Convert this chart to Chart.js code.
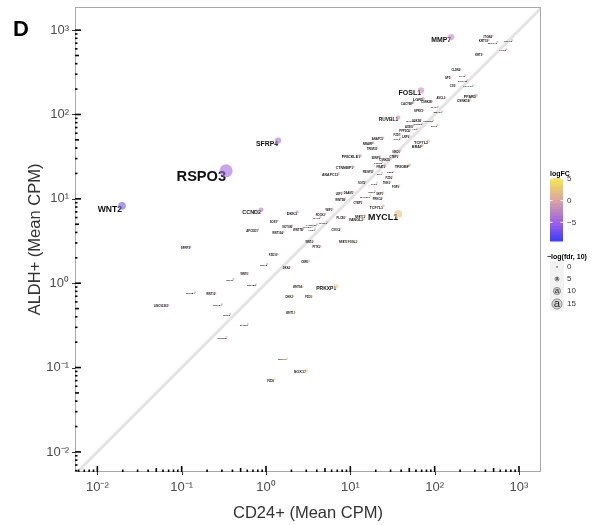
<!DOCTYPE html>
<html>
<head>
<meta charset="utf-8">
<script src="https://cdn.jsdelivr.net/npm/chart.js@4.4.0/dist/chart.umd.min.js"></script>
<style>
  html, body { margin: 0; padding: 0; background: #fff; }
  canvas { display: block; }
</style>
</head>
<body>
<canvas id="cpmChart" width="596" height="525"></canvas>
<script>
// Gene labels (same order in every array below)
const genes = [
    'MMP7', 'FOSL1', 'RUVBL1', 'SFRP4', 'RSPO3', 'WNT2', 'CCND2', 'MYCL1', 'PRKXP1', 'SOX17',
    'LGR5', 'TCF7L2', 'BRAF', 'TRIOBP', 'PRICKLE1', 'CTNNBIP1', 'ANAPC13', 'DKK3', 'TCF7L1', 'VANGL2',
    'PPARD', 'CSNK1E', 'ITGB4', 'KRT18', 'EEF1A1', 'RPLP0', 'ACTB', 'KRT8', 'CLDN4', 'SP5',
    'TPT1', 'EPCAM', 'CD9', 'LGALS4', 'CACYBP', 'CSNK2B', 'ASCL2', 'RHOA', 'SMAD4', 'SPRY2',
    'GSK3B', 'CTNNB1', 'DVL2', 'AXIN1', 'APC', 'LRP6', 'FZD7', 'NKD1', 'CTBP2', 'FRAT2',
    'FZD2', 'TNKS', 'MAPK8', 'CCND3', 'PPP2CA', 'ANAPC5', 'CUL1', 'NRARP', 'TRIM33', 'SENP2',
    'CSNK1D', 'PSEN1', 'FBXW11', 'NLK', 'FZD5', 'SOX9', 'TLE1', 'FGF9', 'RBX1', 'SKP1',
    'DAAM1', 'LEF1', 'MAP3K7', 'PRKCA', 'WNT5B', 'CTBP1', 'WIF1', 'NFATC2', 'PLCB1', 'ROCK2',
    'RAC1', 'SFRP1', 'CAMK2G', 'PPP3CA', 'WNT7B', 'FZD4', 'SOST', 'NOTUM', 'WNT10A', 'APCDD1',
    'CXXC4', 'FOSL2', 'NFAT5', 'WNT4', 'PITX2', 'FZD10', 'CER1', 'DKK4', 'WNT3', 'WNT6',
    'WNT1', 'WNT8B', 'WNT9A', 'DKK2', 'FZD9', 'WNT16', 'WNT8A', 'WNT3A', 'LINC00261', 'NKD2',
    'WNT11', 'SFRP5', 'WNT2B', 'SFRP2', 'WNT7A', 'FZD8'
];

// CD24+ mean CPM (x)
const cd24Cpm = [
    157, 69, 37, 1.39, 0.336, 0.0196, 0.875, 36.9, 6.8, 3.0,
    73, 84, 71, 50, 13.1, 10.8, 7.2, 2.34, 24.5, 14.2,
    311, 262, 481, 431, 552, 832, 706, 366, 201, 153,
    230, 243, 175, 286, 55.6, 93, 133, 110, 123, 73,
    69, 96, 107, 55.6, 62, 50, 39, 39, 37, 26,
    31.4, 29.7, 58.8, 71, 51, 24.5, 39, 18.7, 20.8, 22.6,
    29.7, 23.9, 18.7, 23.9, 32.3, 15, 20.8, 37.9, 19.7, 24.5,
    10.8, 8.0, 17.2, 23.9, 8.7, 13.8, 6.1, 15, 8.7, 5.0,
    4.4, 5.3, 4.0, 3.6, 2.75, 3.8, 1.36, 2.04, 1.6, 0.8,
    7.6, 12, 9.2, 3.6, 4.4, 1.36, 3.2, 1.93, 1.03, 0.61,
    0.41, 0.76, 2.7, 2.1, 3.5, 0.25, 0.144, 0.30, 0.069, 0.375,
    2.2, 0.61, 0.34, 0.126, 1.78, 1.25
];

// ALDH+ mean CPM (y)
const aldhCpm = [
    826, 193, 92, 49, 21.5, 8.26, 7.4, 6.6, 0.92, 0.092,
    155, 48, 43, 25, 32.5, 24, 19.8, 7.0, 8.26, 5.8,
    168, 150, 849, 760, 719, 760, 594, 518, 344, 275,
    291, 254, 221, 221, 139, 143, 159, 124, 109, 112,
    87, 85, 74, 74, 68, 56, 58, 37, 32.5, 24.7,
    18.3, 15.9, 85, 78, 66, 53, 52, 46, 40, 31.6,
    29.9, 27.5, 21.5, 20.4, 21, 15.9, 15.5, 14.3, 12.4, 11.8,
    12.1, 11.8, 10.9, 10.3, 10.0, 9.2, 7.6, 6.3, 6.1, 6.6,
    6.1, 5.3, 5.0, 4.8, 4.4, 4.4, 5.5, 4.8, 4.05, 4.3,
    4.4, 3.16, 3.16, 3.16, 2.75, 2.2, 1.83, 1.55, 1.68, 1.31,
    1.12, 0.97, 0.92, 0.70, 0.70, 0.76, 0.78, 0.56, 0.547, 0.43,
    0.45, 0.33, 0.23, 2.68, 0.128, 0.072
];

// log fold change (colour)
const logFC = [
    -2.2, -1.6, -1.3, -4.2, -4.6, -6.8, -3.0, 2.3, 3.2, 3.6,
    -1.1, 0.8, 0.7, 1.0, -1.3, -1.1, -1.5, -1.6, 1.6, 1.3,
    -1.0, 0.8, -0.8, -0.8, -0.4, 0.1, 0.2, -0.5, -0.8, -0.8,
    -0.3, 0.0, -0.3, 0.4, -1.3, -0.6, -0.3, -0.2, 0.2, -0.6,
    -0.3, 0.2, 0.5, -0.4, -0.1, -0.2, -0.6, 0.1, 0.2, 0.1,
    0.8, 0.9, -0.5, -0.1, -0.4, -1.1, -0.4, -1.3, -1.0, -0.5,
    0.0, -0.2, -0.2, 0.2, 0.6, 0.0, 0.4, 1.4, 0.7, 1.1,
    -0.2, -0.6, 0.7, 1.2, -0.2, 0.6, -0.3, 1.3, 0.5, -0.4,
    -0.5, 0.0, -0.3, -0.4, -0.7, -0.2, -2.0, -1.2, -1.3, -2.4,
    0.8, 1.9, 1.5, 0.2, 0.7, -0.7, 0.8, 0.3, -0.7, -1.1,
    -1.4, -0.4, 1.5, 1.6, 2.3, -1.6, -2.4, -0.9, -3.0, -0.2,
    2.3, 0.9, 0.6, -4.4, 3.8, 4.1
];

// -log10(fdr) (point and label size)
const negLogFdr = [
    8.5, 8.7, 5.5, 8.5, 20, 11, 6.4, 11.5, 5.7, 4.0,
    4.0, 4.0, 3.6, 4.0, 3.8, 3.4, 3.4, 3.9, 3.8, 3.6,
    3.6, 3.0, 2.6, 2.6, 2.0, 2.0, 2.0, 2.2, 2.2, 2.4,
    2.0, 2.0, 2.2, 2.0, 2.6, 2.2, 2.2, 2.0, 2.0, 2.4,
    2.2, 2.0, 2.0, 2.4, 2.0, 2.4, 2.2, 2.4, 2.2, 2.4,
    2.2, 2.2, 2.0, 2.0, 2.2, 2.4, 2.0, 2.6, 2.6, 2.2,
    2.2, 2.0, 2.2, 2.0, 2.0, 2.2, 2.0, 2.4, 2.0, 2.2,
    2.2, 2.2, 2.0, 2.2, 2.4, 2.2, 2.4, 2.2, 2.2, 2.2,
    2.0, 2.0, 2.0, 2.0, 2.4, 2.0, 2.4, 2.2, 2.2, 2.4,
    2.2, 2.4, 2.2, 2.2, 2.4, 2.4, 2.4, 2.2, 2.0, 2.2,
    2.0, 2.0, 2.2, 2.4, 2.2, 2.2, 2.0, 2.0, 2.4, 2.0,
    2.2, 2.0, 2.0, 2.6, 2.0, 2.4
];

// Axis ticks
const tickValues = [0.01, 0.1, 1, 10, 100, 1000];
const tickLabels = ['10⁻²', '10⁻¹', '10⁰', '10¹', '10²', '10³'];
const identityLine = [0.001, 10000];

// Legend entries
const colorbarTicks = [5, 0, -5];
const colorbarLabels = ['5', '0', '−5'];
const sizeLegendValues = [0, 5, 10, 15];

// Colour scale for logFC
const fcStops = [-9.3, -5, 0, 5.2];
const fcColors = [[58, 62, 255], [157, 98, 230], [217, 163, 163], [249, 232, 74]];

const FONT = "'Liberation Sans', Arial, sans-serif";
Chart.defaults.font.family = FONT;

function fcColor(v, alpha) {
    v = Math.max(fcStops[0], Math.min(fcStops[fcStops.length - 1], v));
    let i = 0;
    while (i < fcStops.length - 2 && v > fcStops[i + 1]) i++;
    const t = (v - fcStops[i]) / (fcStops[i + 1] - fcStops[i]);
    const c = fcColors[i].map((c0, k) => Math.round(c0 + (fcColors[i + 1][k] - c0) * t));
    return `rgba(${c[0]}, ${c[1]}, ${c[2]}, ${alpha})`;
}

function fontFor(sig) {
    return 1.2 + 0.67 * sig;
}

function radiusFor(sig) {
    return 0.45 * fontFor(sig);
}

// Draw gene labels (top-right corner of the text sits on the point)
function drawGeneLabels(chart) {
    const ctx = chart.ctx;
    const x = chart.scales.x;
    const y = chart.scales.y;
    ctx.save();
    ctx.fillStyle = '#111';
    ctx.textAlign = 'right';
    ctx.textBaseline = 'alphabetic';
    genes.forEach((g, i) => {
        const f = fontFor(negLogFdr[i]);
        const px = x.getPixelForValue(cd24Cpm[i]);
        const py = y.getPixelForValue(aldhCpm[i]);
        ctx.font = `bold ${f}px ${FONT}`;
        ctx.fillText(g, px, py + f * 0.72);
    });
    ctx.restore();
}

// Frame plus annotation_logticks-style marks inside the panel
function drawFrameAndTicks(chart) {
    const ctx = chart.ctx;
    const a = chart.chartArea;
    const x = chart.scales.x;
    const y = chart.scales.y;
    ctx.save();
    ctx.strokeStyle = '#a8a8a8';
    ctx.lineWidth = 1;
    ctx.strokeRect(a.left + 0.5, a.top + 0.5, a.right - a.left - 1, a.bottom - a.top - 1);

    ctx.strokeStyle = '#000';
    ctx.lineWidth = 1.6;
    for (let e = -3; e <= 3; e++) {
        for (let m = 1; m <= 9; m++) {
            const v = m * Math.pow(10, e);
            const len = m === 1 ? 6 : (m === 5 ? 4 : 2.5);
            const px = x.getPixelForValue(v);
            if (px >= a.left && px <= a.right) {
                ctx.beginPath();
                ctx.moveTo(px, a.bottom);
                ctx.lineTo(px, a.bottom - len);
                ctx.stroke();
            }
            const py = y.getPixelForValue(v);
            if (py >= a.top && py <= a.bottom) {
                ctx.beginPath();
                ctx.moveTo(a.left, py);
                ctx.lineTo(a.left + len, py);
                ctx.stroke();
            }
        }
    }

    // small outward axis ticks at the decades
    ctx.strokeStyle = '#333';
    ctx.lineWidth = 1;
    tickValues.forEach(v => {
        const px = Math.round(x.getPixelForValue(v)) + 0.5;
        ctx.beginPath();
        ctx.moveTo(px, a.bottom);
        ctx.lineTo(px, a.bottom + 3);
        ctx.stroke();
        const py = Math.round(y.getPixelForValue(v)) + 0.5;
        ctx.beginPath();
        ctx.moveTo(a.left, py);
        ctx.lineTo(a.left - 3, py);
        ctx.stroke();
    });
    ctx.restore();
}

function drawTitles(chart) {
    const ctx = chart.ctx;
    const a = chart.chartArea;
    ctx.save();
    ctx.fillStyle = '#000';
    ctx.font = `bold 22px ${FONT}`;
    ctx.textAlign = 'left';
    ctx.fillText('D', 13, 36);

    ctx.fillStyle = '#333';
    ctx.font = `16.5px ${FONT}`;
    ctx.textAlign = 'center';
    ctx.fillText('CD24+ (Mean CPM)', (a.left + a.right) / 2, 518);

    ctx.translate(40, (a.top + a.bottom) / 2);
    ctx.rotate(-Math.PI / 2);
    ctx.fillText('ALDH+ (Mean CPM)', 0, 0);
    ctx.restore();
}

function drawLegends(chart) {
    const ctx = chart.ctx;
    ctx.save();

    // logFC colour bar
    const barLeft = 550, barW = 13, barTop = 178, barBottom = 241;
    const vmax = fcStops[fcStops.length - 1], vmin = fcStops[0];
    const toY = v => barTop + (vmax - v) / (vmax - vmin) * (barBottom - barTop);
    ctx.fillStyle = '#000';
    ctx.font = `bold 7px ${FONT}`;
    ctx.textAlign = 'left';
    ctx.fillText('logFC', barLeft, barTop - 2);
    const nbin = 20;
    for (let b = 0; b < nbin; b++) {
        const v0 = vmax - (vmax - vmin) * b / nbin;
        const v1 = vmax - (vmax - vmin) * (b + 1) / nbin;
        ctx.fillStyle = fcColor((v0 + v1) / 2, 1);
        ctx.fillRect(barLeft, toY(v0), barW, toY(v1) - toY(v0) + 0.5);
    }
    ctx.strokeStyle = '#fff';
    ctx.lineWidth = 1;
    ctx.font = `8px ${FONT}`;
    ctx.textBaseline = 'middle';
    colorbarTicks.forEach((v, i) => {
        const py = toY(v);
        ctx.beginPath();
        ctx.moveTo(barLeft, py); ctx.lineTo(barLeft + 2.5, py);
        ctx.moveTo(barLeft + barW, py); ctx.lineTo(barLeft + barW - 2.5, py);
        ctx.stroke();
        ctx.fillStyle = '#333';
        ctx.fillText(colorbarLabels[i], barLeft + barW + 4, py);
    });

    // size legend
    ctx.textBaseline = 'alphabetic';
    ctx.fillStyle = '#000';
    ctx.font = `bold 7px ${FONT}`;
    ctx.fillText('−log(fdr, 10)', 547, 259);
    const rows = [267, 279, 291, 304];
    const heights = [12, 12, 12, 14];
    sizeLegendValues.forEach((v, i) => {
        const cy = rows[i];
        ctx.fillStyle = '#f2f2f2';
        ctx.fillRect(barLeft, cy - heights[i] / 2, 14, heights[i]);
        const r = radiusFor(v);
        ctx.beginPath();
        ctx.arc(barLeft + 7, cy, r, 0, Math.PI * 2);
        ctx.fillStyle = 'rgba(0, 0, 0, 0.12)';
        ctx.fill();
        ctx.strokeStyle = '#555';
        ctx.lineWidth = 0.6;
        ctx.stroke();
        const f = fontFor(v);
        ctx.fillStyle = '#222';
        ctx.font = `${f}px ${FONT}`;
        ctx.textAlign = 'center';
        ctx.textBaseline = 'middle';
        ctx.fillText('a', barLeft + 7, cy);
        ctx.textAlign = 'left';
        ctx.font = `8px ${FONT}`;
        ctx.fillStyle = '#333';
        ctx.fillText(String(v), barLeft + 17, cy);
    });
    ctx.restore();
}

const decorPlugin = {
    id: 'decor',
    beforeDatasetDraw(chart, args) {
        if (args.index === 0) drawGeneLabels(chart);
    },
    afterDraw(chart) {
        drawFrameAndTicks(chart);
        drawTitles(chart);
        drawLegends(chart);
    }
};

// keep the panel edges where they are: no extra room for edge tick labels
function noEdgePadding(scale) {
    scale.paddingTop = 0;
    scale.paddingBottom = 0;
    scale.paddingLeft = 0;
    scale.paddingRight = 0;
}

const points = genes.map((g, i) => ({ x: cd24Cpm[i], y: aldhCpm[i] }));

new Chart(document.getElementById('cpmChart').getContext('2d'), {
    type: 'scatter',
    data: {
        datasets: [
            {
                label: 'genes',
                data: points,
                order: 1,
                pointRadius: ctx => radiusFor(negLogFdr[ctx.dataIndex]),
                pointBackgroundColor: ctx => fcColor(logFC[ctx.dataIndex], 0.6),
                pointBorderWidth: 0,
                pointBorderColor: 'rgba(0,0,0,0)'
            },
            {
                type: 'line',
                label: 'y = x',
                data: identityLine.map(v => ({ x: v, y: v })),
                order: 2,
                borderColor: '#e4e4e4',
                borderWidth: 3,
                pointRadius: 0
            }
        ]
    },
    options: {
        responsive: false,
        animation: false,
        events: [],
        layout: { padding: { left: 0, top: 7, right: 55, bottom: 0 } },
        plugins: {
            legend: { display: false },
            tooltip: { enabled: false }
        },
        scales: {
            x: {
                type: 'logarithmic',
                position: 'bottom',
                min: Math.pow(10, -2.265),
                max: Math.pow(10, 3.261),
                afterBuildTicks: scale => { scale.ticks = tickValues.map(v => ({ value: v })); },
                afterFit: scale => { scale.height = 53; noEdgePadding(scale); },
                grid: { display: false, drawTicks: false },
                border: { display: false },
                ticks: {
                    autoSkip: false,
                    maxRotation: 0,
                    padding: 8,
                    color: '#4d4d4d',
                    font: { size: 13 },
                    callback: (value, index) => tickLabels[index]
                }
            },
            y: {
                type: 'logarithmic',
                position: 'left',
                min: Math.pow(10, -2.238),
                max: Math.pow(10, 3.274),
                afterBuildTicks: scale => { scale.ticks = tickValues.map(v => ({ value: v })); },
                afterFit: scale => { scale.width = 75; noEdgePadding(scale); },
                grid: { display: false, drawTicks: false },
                border: { display: false },
                ticks: {
                    autoSkip: false,
                    padding: 6,
                    color: '#4d4d4d',
                    font: { size: 13 },
                    callback: (value, index) => tickLabels[index]
                }
            }
        }
    },
    plugins: [decorPlugin]
});
</script>
</body>
</html>
